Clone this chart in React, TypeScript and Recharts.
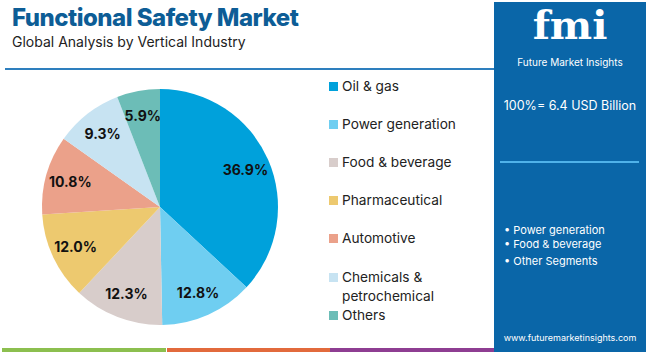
import React from "react";
import { PieChart, Pie, Cell, Legend } from "recharts";

const categories = [
  "Oil & gas",
  "Power generation",
  "Food & beverage",
  "Pharmaceutical",
  "Automotive",
  "Chemicals & petrochemical",
  "Others",
];
const shares = [36.9, 12.8, 12.3, 12.0, 10.8, 9.3, 5.9];
const colors = ["#00A1DB", "#6FCEF1", "#D8CDCB", "#EDC96F", "#EBA18A", "#C7E3F2", "#6CBDB7"];
const bullets = ["Power generation", "Food & beverage", "Other Segments"];
const title = "Functional Safety Market";
const subtitle = "Global Analysis by Vertical Industry";
const totalLabel = "100%= 6.4 USD Billion";
const website = "www.futuremarketinsights.com";

const data = categories.map((name, i) => ({ name, value: shares[i], color: colors[i] }));

const FONT = "Inter, 'Open Sans', sans-serif";
const RAD = Math.PI / 180;

const renderLabel = (props: any) => {
  const { cx, cy, midAngle, outerRadius, value } = props;
  const r = outerRadius * 0.79;
  const x = cx + r * Math.cos(-midAngle * RAD);
  const y = cy + r * Math.sin(-midAngle * RAD);
  return (
    <text
      x={x}
      y={y}
      textAnchor="middle"
      dominantBaseline="central"
      fill="#111"
      fontFamily={FONT}
      fontWeight={700}
      fontSize={14}
    >
      {value.toFixed(1)}%
    </text>
  );
};

const legendRows = [86, 124, 162, 200, 238, 277, 315];

const LegendContent = () => (
  <div style={{ position: "relative", width: 170, height: 280 }}>
    {data.map((d, i) => {
      const parts = d.name === "Chemicals & petrochemical" ? ["Chemicals &", "petrochemical"] : [d.name];
      return (
        <div key={d.name} style={{ position: "absolute", left: 0, top: legendRows[i] - 70 - 9 }}>
          <div
            style={{
              position: "absolute",
              left: 0,
              top: 5,
              width: 9,
              height: 9,
              background: d.color,
            }}
          />
          {parts.map((p, j) => (
            <div
              key={p}
              style={{
                position: "absolute",
                left: 13,
                top: j * 19,
                whiteSpace: "nowrap",
                fontFamily: FONT,
                fontSize: 13.7,
                lineHeight: "18px",
                color: "#222",
              }}
            >
              {p}
            </div>
          ))}
        </div>
      );
    })}
  </div>
);

export default function App() {
  return (
    <div
      style={{
        position: "absolute",
        left: 0,
        top: 0,
        width: 650,
        height: 352,
        background: "#fff",
        overflow: "hidden",
        fontFamily: FONT,
      }}
    >
      <div
        style={{
          position: "absolute",
          left: 12,
          top: 3,
          fontSize: 24,
          fontWeight: 800,
          color: "#0D5D96",
          whiteSpace: "nowrap",
          letterSpacing: -0.5,
        }}
      >
        {title}
      </div>
      <div
        style={{
          position: "absolute",
          left: 12,
          top: 33,
          fontSize: 14,
          color: "#222",
          whiteSpace: "nowrap",
        }}
      >
        {subtitle}
      </div>
      <div
        style={{
          position: "absolute",
          left: 5,
          top: 68,
          width: 490,
          height: 2,
          background: "#2E7FBE",
        }}
      />

      <div style={{ position: "absolute", left: 0, top: 0 }}>
        <PieChart width={490} height={352}>
          <Pie
            data={data}
            dataKey="value"
            nameKey="name"
            cx={155}
            cy={202}
            outerRadius={118}
            startAngle={90}
            endAngle={-270}
            stroke="none"
            label={renderLabel}
            labelLine={false}
            isAnimationActive={false}
          >
            {data.map((d) => (
              <Cell key={d.name} fill={d.color} />
            ))}
          </Pie>
          <Legend
            content={<LegendContent />}
            wrapperStyle={{ position: "absolute", left: 329, top: 70, width: 170, height: 280 }}
          />
        </PieChart>
      </div>

      <div
        style={{
          position: "absolute",
          left: 494,
          top: 2,
          width: 152,
          height: 350,
          background: "#0A66A8",
        }}
      >
        <div
          style={{
            position: "absolute",
            left: 0,
            top: 2,
            width: 152,
            textAlign: "center",
            fontFamily: "'DejaVu Serif', serif",
            fontWeight: 700,
            fontSize: 40,
            color: "#fff",
            lineHeight: "42px",
          }}
        >
          fmi
        </div>
        <div
          style={{
            position: "absolute",
            left: 0,
            top: 54,
            width: 152,
            textAlign: "center",
            fontSize: 10,
            lineHeight: "12px",
            color: "#fff",
            whiteSpace: "nowrap",
          }}
        >
          Future Market Insights
        </div>
        <div
          style={{
            position: "absolute",
            left: 0,
            top: 96,
            width: 152,
            textAlign: "center",
            fontSize: 12.5,
            color: "#fff",
            whiteSpace: "nowrap",
          }}
        >
          {totalLabel}
        </div>
        <div
          style={{
            position: "absolute",
            left: 6,
            top: 159,
            width: 139,
            height: 2,
            background: "#4FB2EA",
          }}
        />
        {bullets.map((b, i) => (
          <div
            key={b}
            style={{
              position: "absolute",
              left: 10,
              top: [221, 235, 252][i],
              fontSize: 11,
              color: "#fff",
              whiteSpace: "nowrap",
            }}
          >
            • {b}
          </div>
        ))}
        <div
          style={{
            position: "absolute",
            left: 0,
            top: 330,
            width: 152,
            textAlign: "center",
            fontSize: 9,
            color: "#fff",
            whiteSpace: "nowrap",
          }}
        >
          {website}
        </div>
      </div>

      <div style={{ position: "absolute", left: 2, top: 348, width: 164, height: 4, background: "#8CBF4F" }} />
      <div style={{ position: "absolute", left: 167, top: 348, width: 163, height: 4, background: "#E26A3C" }} />
      <div style={{ position: "absolute", left: 330, top: 348, width: 164, height: 4, background: "#8E3D92" }} />
    </div>
  );
}
